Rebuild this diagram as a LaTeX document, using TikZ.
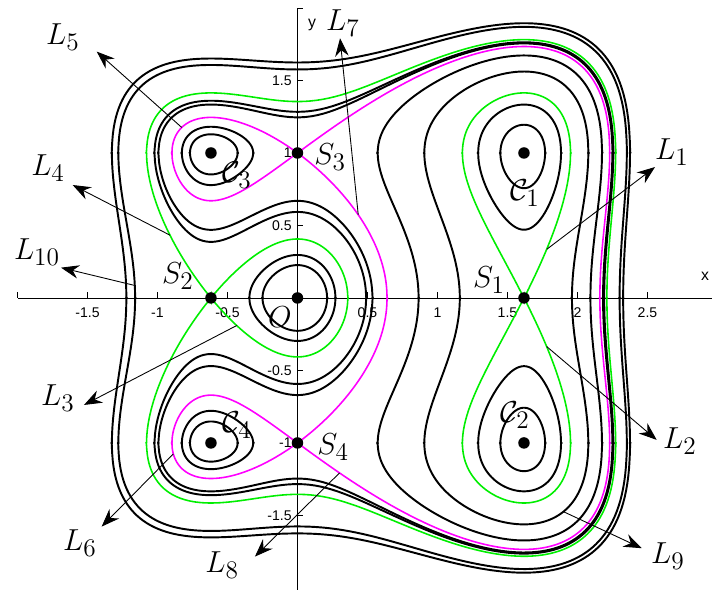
\documentclass[tikz,border=0pt]{standalone}
\usepackage{fontspec}
\newfontfamily\ticksf{Liberation Sans}
\usepackage{amsmath}
\usetikzlibrary{arrows.meta}
\definecolor{SepGreen}{RGB}{0,238,0}
\definecolor{SepMagenta}{RGB}{255,0,255}
\tikzset{declare function={
	Fx(\x)=(\x)*(\x)*(0.25*(\x)*(\x)-(\x)/3-0.5);
	Yb(\x,\lv,\sn)=sqrt(max(0,1+(\sn)*sqrt(max(0,1+4*((\lv)-Fx(\x))))));
}}
% one branch of Fx(x)+y^4/4-y^2/2=h over a<=x<=b, both halves y>0 and y<0
% #1 style, #2 h, #3 a, #4 b, #5 outer (1) or inner (-1)
\newcommand{\piece}[5]{%
	\foreach \sg in {1,-1}
		\draw[#1] plot[domain=0:180, samples=120, variable=\t]
			({(#3)-0.004+((#4)-(#3)+0.008)*(1-cos(\t))/2},
			 {\sg*Yb((#3)-0.004+((#4)-(#3)+0.008)*(1-cos(\t))/2,#2,#5)});
}

\begin{document}
\begin{tikzpicture}[x=2.8cm, y=2.9cm,
	orbit/.style={line width=1.1pt, line cap=round},
	sepS/.style={SepGreen, line width=0.9pt, line cap=round},
	sepT/.style={SepMagenta, line width=0.9pt, line cap=round},
	axis/.style={line width=0.5pt},
	arr/.style={-{Stealth[length=3.6mm, width=2.7mm, inset=1.2mm]}, line width=0.5pt},
	dot/.style={circle, fill, inner sep=0pt, minimum size=2.3mm},
	lab/.style={inner sep=0pt, font=\fontsize{19}{21}\selectfont},
	ticklab/.style={inner sep=0pt, font=\ticksf\fontsize{8}{9}\selectfont}]
	\useasboundingbox (-2.125,-2.014) rectangle (2.961,2.055);
	% axes
	\draw[axis] (-1.996,0) -- (2.961,0);
	\draw[axis] (0,-2.014) -- (0,2.0);
	\foreach \v in {-2,-1.5,-1,-0.5,0.5,1,1.5,2,2.5}
		\draw[axis] (\v,0) -- ++(0,0.12cm);
	\foreach \v in {-1.5,-1,-0.5,0.5,1,1.5,2}
		\draw[axis] (0,\v) -- ++(0.12cm,0);
	\foreach \v in {-1.5,-1,-0.5,0.5,1,1.5,2,2.5}
		\node[ticklab] at (\v,-0.103) {\v};
	\foreach \v in {-1.5,-1,-0.5,0.5,1,1.5}
		\node[ticklab, anchor=east] at ([xshift=-0.11cm]0,\v) {\v};
	\node[ticklab, font=\ticksf\fontsize{9}{10}\selectfont] (xlab) at (2.911,0.152) {x};
	\node[ticklab, font=\ticksf\fontsize{9}{10}\selectfont] (ylab) at (0.104,1.883) {y};

	% outer orbits
	\piece{orbit}{0.42}{-1.3257}{2.3753}{1}
	\piece{orbit}{0.42}{-1.3257}{-1.2224}{-1}
	\piece{orbit}{0.42}{2.3263}{2.3753}{-1}
	\piece{orbit}{0.30}{-1.2795}{2.3525}{1}
	\piece{orbit}{0.30}{-1.2795}{-1.1599}{-1}
	\piece{orbit}{0.30}{2.3011}{2.3525}{-1}
	% orbits round C1, C3, C4, C2
	\piece{orbit}{-0.145}{-1.0208}{2.2563}{1}
	\piece{orbit}{-0.145}{-1.0208}{0.4902}{-1}
	\piece{orbit}{-0.145}{2.1910}{2.2563}{-1}
	\piece{orbit}{-0.174}{-0.9925}{2.2492}{1}
	\piece{orbit}{-0.174}{-0.9925}{0.5352}{-1}
	\piece{orbit}{-0.174}{2.1827}{2.2492}{-1}
	% round O
	\piece{orbit}{-0.042}{-0.3435}{0.2710}{-1}
	\piece{orbit}{-0.025}{-0.2496}{0.2114}{-1}
	% round C3 and C4
	\piece{orbit}{-0.287}{-0.8258}{-0.3164}{1}
	\piece{orbit}{-0.287}{-0.8258}{-0.3164}{-1}
	\piece{orbit}{-0.307}{-0.7678}{-0.4276}{1}
	\piece{orbit}{-0.307}{-0.7678}{-0.4276}{-1}
	% round C1 and C2 together
	\piece{orbit}{-0.45}{0.5731}{2.1751}{1}
	\piece{orbit}{-0.45}{0.5731}{0.8651}{-1}
	\piece{orbit}{-0.45}{2.0926}{2.1751}{-1}
	\piece{orbit}{-0.74}{0.9061}{2.0774}{1}
	\piece{orbit}{-0.74}{0.9061}{1.1595}{-1}
	\piece{orbit}{-0.74}{1.9607}{2.0774}{-1}
	% round C1 and C2
	\piece{orbit}{-1.106}{1.2909}{1.8826}{1}
	\piece{orbit}{-1.106}{1.2909}{1.8826}{-1}
	\piece{orbit}{-1.212}{1.4493}{1.7686}{1}
	\piece{orbit}{-1.212}{1.4493}{1.7686}{-1}

	% separatrix through S2
	\piece{sepS}{-0.07582}{-1.0780}{2.2727}{1}
	\piece{sepS}{-0.07582}{-1.0780}{-0.618034}{-1}
	\piece{sepS}{-0.07582}{-0.618034}{0.3593}{-1}
	\piece{sepS}{-0.07582}{2.2102}{2.2727}{-1}
	% separatrix through S1
	\piece{sepS}{-1.007514}{1.1782}{1.9504}{1}
	\piece{sepS}{-1.007514}{1.1782}{1.618034}{-1}
	\piece{sepS}{-1.007514}{1.618034}{1.9504}{-1}
	% separatrix through S3, S4
	\piece{sepT}{-0.25}{-0.896805}{0}{1}
	\piece{sepT}{-0.25}{-0.896805}{0}{-1}
	\piece{sepT}{-0.25}{0}{2.230139}{1}
	\piece{sepT}{-0.25}{0}{0.6397}{-1}
	\piece{sepT}{-0.25}{2.16}{2.230139}{-1}

	% equilibria
	\node[dot] (O) at (0,0) {};
	\node[dot] (S1) at (1.618,0) {};
	\node[dot] (S2) at (-0.618,0) {};
	\node[dot] (S3) at (0,1) {};
	\node[dot] (S4) at (0,-1) {};
	\node[dot] (C1) at (1.618,1) {};
	\node[dot] (C2) at (1.618,-1) {};
	\node[dot] (C3) at (-0.618,1) {};
	\node[dot] (C4) at (-0.618,-1) {};
	\node[lab] (labO) at (-0.125,-0.131) {$O$};
	\node[lab] (labS1) at (1.368,0.124) {$S_1$};
	\node[lab] (labS2) at (-0.854,0.152) {$S_2$};
	\node[lab] (labS3) at (0.234,0.972) {$S_3$};
	\node[lab] (labS4) at (0.254,-1.028) {$S_4$};
	\node[lab] (labC1) at (1.625,0.724) {$\mathcal{C}_1$};
	\node[lab] (labC2) at (1.554,-0.807) {$\mathcal{C}_2$};
	\node[lab] (labC3) at (-0.432,0.848) {$\mathcal{C}_3$};
	\node[lab] (labC4) at (-0.432,-0.876) {$\mathcal{C}_4$};

	% orbit labels
	\coordinate (p1) at (1.78,0.335);     \coordinate (t1) at (2.554,0.903);
	\coordinate (p2) at (1.78,-0.335);    \coordinate (t2) at (2.566,-0.979);
	\coordinate (p3) at (-0.434,-0.190);  \coordinate (t3) at (-1.525,-0.738);
	\coordinate (p4) at (-0.911,0.433);   \coordinate (t4) at (-1.606,0.779);
	\coordinate (p5) at (-0.827,1.176);   \coordinate (t5) at (-1.434,1.699);
	\coordinate (p6) at (-0.887,-1.075);  \coordinate (t6) at (-1.399,-1.577);
	\coordinate (p7) at (0.434,0.574);    \coordinate (t7) at (0.304,1.791);
	\coordinate (p8) at (0.3,-1.207);     \coordinate (t8) at (-0.304,-1.784);
	\coordinate (p9) at (1.9,-1.474);     \coordinate (t9) at (2.459,-1.726);
	\coordinate (p10) at (-1.162,0.086);  \coordinate (t10) at (-1.689,0.209);
	\foreach \i in {1,...,10}
		\draw[arr] (p\i) -- (t\i);
	\node[lab] (L1) at (2.675,1.007) {$L_1$};
	\node[lab] (L2) at (2.732,-0.986) {$L_2$};
	\node[lab] (L3) at (-1.711,-0.690) {$L_3$};
	\node[lab] (L4) at (-1.782,0.897) {$L_4$};
	\node[lab] (L5) at (-1.675,1.800) {$L_5$};
	\node[lab] (L6) at (-1.554,-1.690) {$L_6$};
	\node[lab] (L7) at (0.325,1.897) {$L_7$};
	\node[lab] (L8) at (-0.539,-1.841) {$L_8$};
	\node[lab] (L9) at (2.646,-1.779) {$L_9$};
	\node[lab] (L10) at (-1.861,0.317) {$L_{10}$};
\end{tikzpicture}
\end{document}
